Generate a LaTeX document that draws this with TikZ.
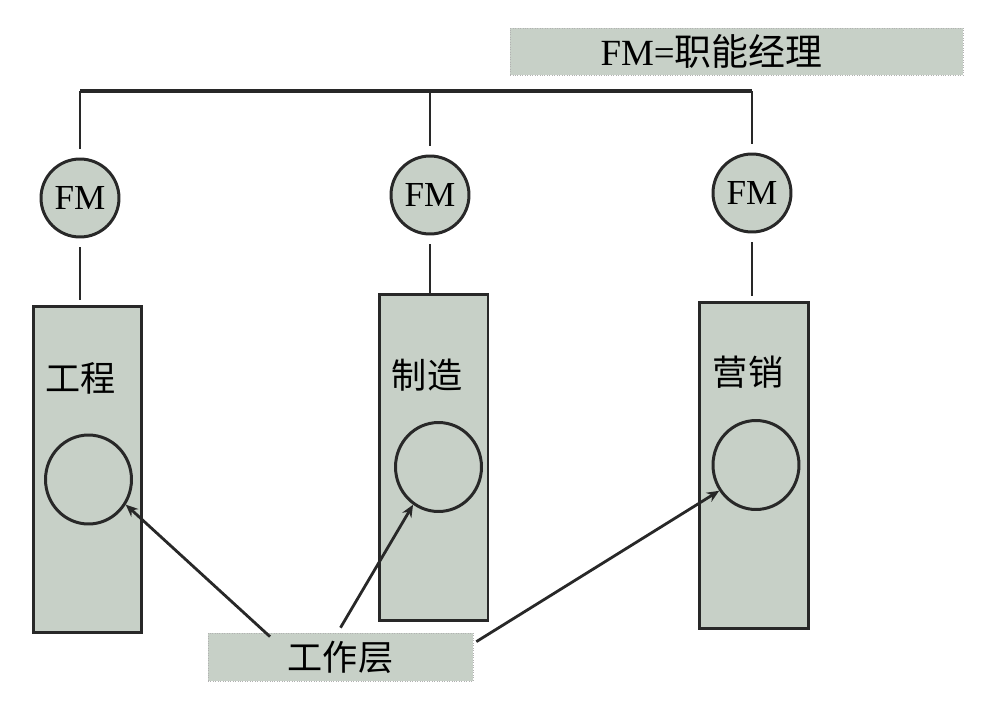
\documentclass[tikz,border=0pt]{standalone}
\usepackage{fontspec}
\setmainfont{Liberation Serif}
\newfontfamily\cjk{Noto Sans CJK SC}
\usetikzlibrary{shapes.geometric,arrows.meta}
\definecolor{sage}{RGB}{199,208,199}
\definecolor{ink}{RGB}{40,40,40}

\begin{document}
\begin{tikzpicture}[x=0.02cm,y=-0.02cm,
  fm/.style={circle,draw=ink,line width=1.7pt,fill=sage,minimum size=1.56cm,inner sep=0pt,font=\fontsize{20}{24}\selectfont},
  dept/.style={draw=ink,line width=1.7pt,fill=sage,minimum width=2.18cm,minimum height=6.54cm,inner sep=0pt},
  hole/.style={ellipse,draw=ink,line width=1.7pt,minimum width=1.72cm,minimum height=1.78cm,inner sep=0pt},
  tag/.style={fill=sage,draw=gray!60,densely dotted,line width=0.4pt,inner sep=0pt},
  lab/.style={font=\cjk\fontsize{20}{24}\selectfont},
  wire/.style={draw=ink,line width=1.4pt},
  drop/.style={wire,shorten <=0.18cm,shorten >=0.1cm},
  pointer/.style={draw=ink,line width=1.6pt,-{Stealth[length=7pt,width=6pt]}}]
 \useasboundingbox (0,0) rectangle (994,708);
 \node[tag,minimum width=9.06cm,minimum height=0.94cm] (legend) at (736.5,51.5)
   {\fontsize{21}{25}\selectfont FM={\cjk 职能经理}\hspace*{1cm}};

 \node[fm] (fmEng) at (80,198) {FM};
 \node[fm] (fmMfg) at (430,195) {FM};
 \node[fm] (fmMkt) at (752,193) {FM};
 \coordinate (barL) at (80,91);
 \coordinate (barM) at (430,91);
 \coordinate (barR) at (752,91);
 \draw[ink,line width=2pt] (barL) -- (barM) -- (barR);
 \draw[wire,shorten >=0.18cm] (barL) -- (fmEng);
 \draw[wire,shorten >=0.18cm] (barM) -- (fmMfg);
 \draw[wire,shorten >=0.18cm] (barR) -- (fmMkt);

 \node[dept] (eng) at (87.5,469.5) {};
 \node[dept] (mfg) at (433.5,457.5) {};
 \node[dept] (mkt) at (754,465.5) {};
 \draw[drop] (fmEng) -- (fmEng |- eng.north);
 \draw[drop,shorten >=0pt] (fmMfg) -- (fmMfg |- mfg.north);
 \draw[drop] (fmMkt) -- (fmMkt |- mkt.north);

 \node[lab] (tEng) at (81,378) {工程};
 \node[lab] (tMfg) at (427,375) {制造};
 \node[lab] (tMkt) at (748,372) {营销};
 \node[hole] (hEng) at (88.5,479.5) {};
 \node[hole] (hMfg) at (438.5,467) {};
 \node[hole] (hMkt) at (756,465) {};
 %%%%%%%%%%%%%%%%%%%%%%%%%%%%%%%%%%%
 \node[tag,lab,minimum width=5.3cm,minimum height=0.96cm] (layer) at (340.5,657) {工作层};
 \draw[pointer] ([xshift=-1.41cm,yshift=-0.08cm]layer.north) -- (hEng.-34.5);
 \draw[pointer] ([yshift=0.1cm]layer.north) -- (hMfg.-124.8);
 \draw[pointer] ([xshift=0.06cm,yshift=-0.18cm]layer.north east) -- (hMkt.-145.3);
\end{tikzpicture}
\end{document}
